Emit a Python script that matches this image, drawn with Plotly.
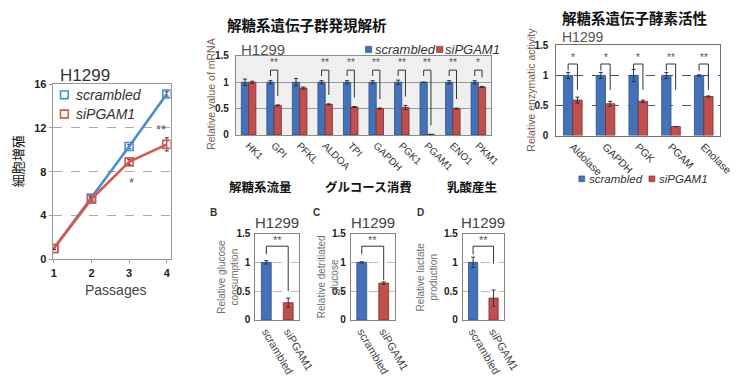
import plotly.graph_objects as go

W, H = 741, 376

# ---- growth curve (cell proliferation) ----
passages = [1, 2, 3, 4]
growth_scrambled = [1.0, 5.6, 10.3, 15.1]
growth_scrambled_err = [0.1, 0.15, 0.2, 0.2]
growth_sipgam1 = [1.0, 5.5, 8.9, 10.5]
growth_sipgam1_err = [0.1, 0.15, 0.25, 0.6]

# ---- glycolytic gene mRNA ----
genes = ["HK1", "GPI", "PFKL", "ALDOA", "TPI", "GAPDH", "PGK1", "PGAM1", "ENO1", "PKM1"]
mrna_scrambled = [1.0, 1.0, 1.0, 1.0, 1.0, 1.0, 1.0, 1.0, 1.0, 1.0]
mrna_scrambled_err = [0.06, 0.03, 0.07, 0.03, 0.03, 0.03, 0.04, 0.0, 0.03, 0.03]
mrna_sipgam1 = [1.0, 0.56, 0.89, 0.58, 0.53, 0.50, 0.52, 0.01, 0.50, 0.91]
mrna_sipgam1_err = [0.02, 0.01, 0.02, 0.01, 0.01, 0.01, 0.04, 0.0, 0.01, 0.01]
mrna_sig = ["", "**", "", "**", "**", "**", "**", "**", "**", "*"]

# ---- glycolytic enzyme activity ----
enzymes = ["Aldolase", "GAPDH", "PGK", "PGAM", "Enolase"]
enz_scrambled = [1.0, 1.0, 1.0, 1.0, 1.0]
enz_scrambled_err = [0.05, 0.05, 0.1, 0.05, 0.01]
enz_sipgam1 = [0.59, 0.53, 0.57, 0.15, 0.65]
enz_sipgam1_err = [0.05, 0.04, 0.02, 0.0, 0.01]
enz_sig = ["*", "*", "*", "**", "**"]

# ---- glycolytic flux panels ----
groups = ["scrambled", "siPGAM1"]
glucose_consumption = [1.0, 0.30]
glucose_consumption_err = [0.03, 0.08]
detritiated_glucose = [1.0, 0.64]
detritiated_glucose_err = [0.01, 0.02]
lactate_production = [1.0, 0.38]
lactate_production_err = [0.09, 0.14]

BLUE = "#4472b8"
RED = "#c0504d"
BLUE_EDGE = "#2c4f86"
RED_EDGE = "#7e2f2c"
LINE_BLUE = "#4f8ad0"
LINE_RED = "#d5574e"
STAR = "#555555"
SANS = "Liberation Sans, Arial, sans-serif"
CJK = "Noto Sans CJK JP, sans-serif"


def px(x):
    return x / W


def py(y):
    return 1 - y / H


fig = go.Figure()
annotations = []
shapes = []


def note(x, y, text, size=11, color="#222", family=SANS, weight="normal",
         style="normal", angle=0, xanchor="center", yanchor="middle"):
    annotations.append(dict(
        x=px(x), y=py(y), xref="paper", yref="paper", text=text, showarrow=False,
        textangle=angle, xanchor=xanchor, yanchor=yanchor,
        font=dict(family=family, size=size, color=color, weight=weight, style=style)))


err_style = dict(type="data", color="#333", thickness=1, width=2)

# ---------------- Panel 1: growth ----------------
for ys, es, col in [(growth_scrambled, growth_scrambled_err, LINE_BLUE),
                    (growth_sipgam1, growth_sipgam1_err, LINE_RED)]:
    fig.add_trace(go.Scatter(
        x=passages, y=ys, mode="lines+markers", xaxis="x", yaxis="y",
        line=dict(color=col, width=2.6),
        marker=dict(symbol="square-open", size=8, color=col, line=dict(width=1.6)),
        error_y=dict(err_style, array=es), showlegend=False))

# ---------------- Panel 2: mRNA ----------------
for ys, es, col, edge in [(mrna_scrambled, mrna_scrambled_err, BLUE, BLUE_EDGE),
                          (mrna_sipgam1, mrna_sipgam1_err, RED, RED_EDGE)]:
    fig.add_trace(go.Bar(
        x=genes, y=ys, xaxis="x2", yaxis="y2",
        marker=dict(color=col, line=dict(color=edge, width=0.8)),
        error_y=dict(err_style, array=es), showlegend=False))

# ---------------- Panel 3: enzyme activity ----------------
for ys, es, col, edge in [(enz_scrambled, enz_scrambled_err, BLUE, BLUE_EDGE),
                          (enz_sipgam1, enz_sipgam1_err, RED, RED_EDGE)]:
    fig.add_trace(go.Bar(
        x=enzymes, y=ys, xaxis="x3", yaxis="y3",
        marker=dict(color=col, line=dict(color=edge, width=0.8)),
        error_y=dict(err_style, array=es), showlegend=False))

# ---------------- Panels B-D ----------------
flux_sets = [(glucose_consumption, glucose_consumption_err, "4"),
             (detritiated_glucose, detritiated_glucose_err, "5"),
             (lactate_production, lactate_production_err, "6")]
for ys, es, n in flux_sets:
    fig.add_trace(go.Bar(
        x=groups, y=ys, xaxis="x" + n, yaxis="y" + n, width=0.45,
        marker=dict(color=[BLUE, RED], line=dict(color=[BLUE_EDGE, RED_EDGE], width=0.8)),
        error_y=dict(err_style, array=es), showlegend=False))

# ---------------- axes ----------------
tickfont_bold = dict(family=SANS, size=10, color="#222", weight="bold")


def bar_yaxis(dom_top, dom_bot, xname, linecolor, gridcolor, griddash, standoff=2):
    return dict(domain=[py(dom_bot), py(dom_top)], anchor=xname, range=[0, 1.5],
                tickvals=[0, 0.5, 1, 1.5], ticktext=["0", "0.5", "1", "1.5"],
                tickfont=tickfont_bold, ticks="", ticklabelstandoff=standoff,
                showline=True, linecolor=linecolor, linewidth=1, mirror=True,
                showgrid=True, gridcolor=gridcolor, griddash=griddash, gridwidth=1,
                zeroline=False, fixedrange=True)


def bar_xaxis(x0, x1, yname, n, linecolor, angle, size, color):
    return dict(domain=[px(x0), px(x1)], anchor=yname, range=[-0.5, n - 0.5],
                type="category", tickangle=angle,
                tickfont=dict(family=SANS, size=size, color=color),
                showline=True, linecolor=linecolor, linewidth=1, mirror=True,
                ticks="", showgrid=False, zeroline=False, fixedrange=True)


layout_axes = dict(
    xaxis=dict(domain=[px(52), px(173)], anchor="y", range=[0.97, 4.1],
               tickvals=passages, tickfont=dict(family=SANS, size=11, color="#222", weight="bold"),
               ticks="outside", ticklen=3, tickcolor="#999",
               showline=True, linecolor="#999", linewidth=1, mirror=True,
               showgrid=False, zeroline=False),
    yaxis=dict(domain=[py(264), py(81)], anchor="x", range=[0, 16.03],
               tickvals=[0, 4, 8, 12, 16], tickfont=dict(family=SANS, size=11, color="#222", weight="bold"),
               ticks="outside", ticklen=3, tickcolor="#999",
               showline=True, linecolor="#999", linewidth=1, mirror=True,
               showgrid=True, gridcolor="#aaaaaa", griddash="dash", zeroline=False),
    xaxis2=bar_xaxis(240, 502, "y2", len(genes), "#8c8c8c", 45, 10, "#333"),
    yaxis2=bar_yaxis(52, 134.3, "x2", "#8c8c8c", "#9a9a9a", "solid", standoff=4),
    xaxis3=bar_xaxis(569, 737, "y3", len(enzymes), "#7d6e62", 45, 10.5, "#333"),
    yaxis3=bar_yaxis(41, 135, "x3", "#7d6e62", "#555555", "dash", standoff=5),
    xaxis4=bar_xaxis(260, 305, "y4", 2, "#8f8073", 60, 11, "#444"),
    yaxis4=bar_yaxis(237, 327, "x4", "#8f8073", "#bbbbbb", "dash"),
    xaxis5=bar_xaxis(358, 403, "y5", 2, "#8f8073", 60, 11, "#444"),
    yaxis5=bar_yaxis(237, 327, "x5", "#8f8073", "#bbbbbb", "dash"),
    xaxis6=bar_xaxis(473, 515, "y6", 2, "#8f8073", 60, 11, "#444"),
    yaxis6=bar_yaxis(237, 327, "x6", "#8f8073", "#bbbbbb", "dash"),
)

# light grey plotting area of the mRNA panel
shapes.append(dict(type="rect", xref="x2 domain", yref="y2 domain", x0=0, x1=1, y0=0, y1=1,
                   fillcolor="#efefef", line=dict(width=0), layer="below"))

# ---------------- significance brackets ----------------
BAR_GAP = 0.43
OFF = (1 - BAR_GAP) / 4


def bracket(xr, yr, xl, xrgt, top, lb, rb, stars, star_y, size=10):
    kw = dict(type="line", xref=xr, yref=yr, line=dict(color="#333", width=1))
    shapes.append(dict(kw, x0=xl, x1=xl, y0=lb, y1=top))
    shapes.append(dict(kw, x0=xl, x1=xrgt, y0=top, y1=top))
    shapes.append(dict(kw, x0=xrgt, x1=xrgt, y0=top, y1=rb))
    annotations.append(dict(x=(xl + xrgt) / 2, y=star_y, xref=xr, yref=yr, text=stars,
                            showarrow=False, font=dict(family=SANS, size=size, color=STAR)))


for i, s in enumerate(mrna_sig):
    if s:
        rb = min(mrna_sipgam1[i] + mrna_sipgam1_err[i] + 0.17, 1.15)
        bracket("x2", "y2", i - OFF, i + OFF, 1.23, 1.12, rb, s, 1.37)

for i, s in enumerate(enz_sig):
    bracket("x3", "y3", i - OFF, i + OFF, 1.19, 1.08, 0.76, s, 1.30)

flux_right_legs = [0.50, 0.69, 0.98]
for (ys, es, n), rb in zip(flux_sets, flux_right_legs):
    bracket("x" + n, "y" + n, 0, 1, 1.28, 1.14, rb, "**", 1.38, size=11)

# growth-curve significance marks
annotations.append(dict(x=3.05, y=7.0, xref="x", yref="y", text="*", showarrow=False,
                        font=dict(family=SANS, size=13, color=STAR)))
annotations.append(dict(x=3.85, y=11.9, xref="x", yref="y", text="**", showarrow=False,
                        font=dict(family=SANS, size=13, color=STAR)))

# ---------------- text: panel 1 ----------------
note(57, 72, "H1299", size=17, color="#333", xanchor="left")
note(16, 162, "細胞増殖", size=13, color="#111", family=CJK, angle=-90)
note(116, 296, "Passages", size=14, color="#444")
# legend of panel 1
for yc, col, label in [(92.5, LINE_BLUE, "scrambled"), (112.5, LINE_RED, "siPGAM1")]:
    shapes.append(dict(type="rect", xref="paper", yref="paper",
                       x0=px(60), x1=px(68), y0=py(yc + 4), y1=py(yc - 4),
                       line=dict(color=col, width=1.6), fillcolor="rgba(0,0,0,0)"))
    note(74, yc, label, size=14, color="#333", style="italic", xanchor="left")

# ---------------- text: panel 2 ----------------
note(313, 19, "解糖系遺伝子群発現解析", size=14.5, color="#111", family=CJK, weight="bold")
note(243, 45, "H1299", size=15, color="#555", xanchor="left")
note(215, 92, "Relative value of mRNA", size=10.5, color="#7b5a50", angle=-90)
for x0, col, edge, tx, label in [(373, BLUE, BLUE_EDGE, 381, "scrambled"),
                                 (446, RED, RED_EDGE, 453, "siPGAM1")]:
    shapes.append(dict(type="rect", xref="paper", yref="paper",
                       x0=px(x0), x1=px(x0 + 6.5), y0=py(48.5), y1=py(42),
                       line=dict(color=edge, width=0.6), fillcolor=col))
    note(tx, 45, label, size=13, color="#333", style="italic", xanchor="left")

# ---------------- text: panel 3 ----------------
note(649, 12, "解糖系遺伝子酵素活性", size=14.5, color="#111", family=CJK, weight="bold")
note(573, 32, "H1299", size=14, color="#555", xanchor="left")
note(542, 87, "Relative enzymatic activity", size=10.5, color="#7b5a50", angle=-90)
for x0, col, edge, tx, label in [(592, BLUE, BLUE_EDGE, 600, "scrambled"),
                                 (664, RED, RED_EDGE, 672, "siPGAM1")]:
    shapes.append(dict(type="rect", xref="paper", yref="paper",
                       x0=px(x0), x1=px(x0 + 6), y0=py(183), y1=py(177),
                       line=dict(color=edge, width=0.6), fillcolor=col))
    note(tx, 180, label, size=11.5, color="#333", style="italic", xanchor="left")

# ---------------- text: panels B-D ----------------
note(265, 188, "解糖系流量", size=12.5, color="#111", family=CJK, weight="bold")
note(376, 188, "グルコース消費", size=12.5, color="#111", family=CJK, weight="bold")
note(482, 188, "乳酸産生", size=12.5, color="#111", family=CJK, weight="bold")
for lx, letter, hx, ylx, ylabel in [
        (217, "B", 282.5, 232, "Relative glucose<br>consumption"),
        (323, "C", 380.5, 334, "Relative detritiated<br>glucose"),
        (430, "D", 494, 436, "Relative lactate<br>production")]:
    note(lx, 215, letter, size=10, color="#333", weight="bold")
    note(hx, 225, "H1299", size=15, color="#444")
    note(ylx, 282, ylabel, size=10, color="#6f6f6f", angle=-90)

fig.update_layout(
    width=W, height=H, margin=dict(l=0, r=0, t=0, b=0),
    paper_bgcolor="white", plot_bgcolor="white",
    barmode="group", bargap=BAR_GAP, bargroupgap=0,
    showlegend=False, annotations=annotations, shapes=shapes,
    **layout_axes)

fig.write_html("out.html")
